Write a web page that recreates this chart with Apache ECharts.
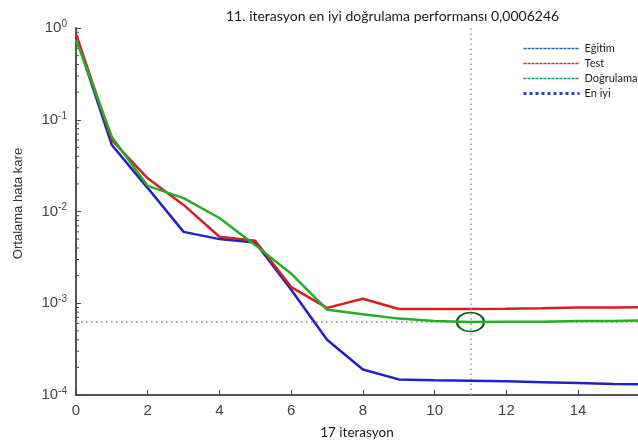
<!DOCTYPE html>
<html>
<head>
<meta charset="utf-8">
<script src="https://cdn.jsdelivr.net/npm/echarts@6/dist/echarts.min.js"></script>
<style>
html, body { margin: 0; padding: 0; background: #fff; }
#chart { width: 638px; height: 446px; }
</style>
</head>
<body>
<div id="chart"></div>
<script>
var iterasyon = [0, 1, 2, 3, 4, 5, 6, 7, 8, 9, 10, 11, 12, 13, 14, 15, 16, 17];
var egitim = [0.8, 0.053, 0.018, 0.006, 0.005, 0.0046, 0.0014, 0.0004, 0.00019, 0.000148, 0.000145, 0.000143, 0.000141, 0.000138, 0.000135, 0.000132, 0.00013, 0.000128];
var test = [0.86, 0.06, 0.023, 0.0118, 0.0053, 0.0048, 0.0015, 0.00089, 0.00112, 0.000865, 0.000865, 0.000865, 0.00087, 0.00088, 0.0009, 0.0009, 0.00091, 0.00091];
var dogrulama = [0.75, 0.065, 0.019, 0.014, 0.0085, 0.0043, 0.0021, 0.00085, 0.00076, 0.00068, 0.00064, 0.0006246, 0.00063, 0.00063, 0.00064, 0.00064, 0.00065, 0.00065];
var enIyiIter = 11;
var enIyiDeger = 0.0006246;
var yTicks = [1e-4, 1e-3, 1e-2, 1e-1, 1];
// the picture is cut on the right, just short of 16
var xGorunenMax = 15.67;

// minor log ticks 2..9 in each decade
var minorTicks = [];
for (var d = 0; d < 4; d++) {
	for (var k = 2; k <= 9; k++) minorTicks.push(k * yTicks[d]);
}

function pairs(arr) {
	return arr.map(function (v, i) { return [iterasyon[i], v]; });
}

var noSymbol = { opacity: 0 };

var myChart = echarts.init(document.getElementById('chart'));
var option = {
	animation: false,
	title: {
		text: '11. iterasyon en iyi doğrulama performansı 0,0006246',
		left: 221,
		top: 4,
		textStyle: { fontFamily: 'Lato', fontSize: 14, fontWeight: 'normal', color: '#1a1a1a' }
	},
	legend: {
		orient: 'vertical',
		left: 522,
		top: 43,
		padding: 0,
		itemWidth: 56,
		itemHeight: 8,
		itemGap: 4,
		textStyle: { fontFamily: 'Lato', fontSize: 11, color: '#1a1a1a' },
		data: [
			{ name: 'Eğitim', itemStyle: noSymbol, lineStyle: { type: [3, 1], width: 1.3, color: '#1f5fd0' } },
			{ name: 'Test', itemStyle: noSymbol, lineStyle: { type: [3, 1], width: 1.3, color: '#d42a2a' } },
			{ name: 'Doğrulama', itemStyle: noSymbol, lineStyle: { type: [3, 1], width: 1.3, color: '#10a050' } },
			{ name: 'En iyi', itemStyle: noSymbol, lineStyle: { type: 'dotted', width: 3, color: '#2a3ae0' } }
		]
	},
	grid: { left: 76, right: 0, top: 28, bottom: 51 },
	xAxis: {
		type: 'value',
		min: 0,
		max: xGorunenMax,
		interval: 2,
		name: '17 iterasyon',
		nameLocation: 'middle',
		nameGap: 31,
		nameTextStyle: { fontFamily: 'Lato', fontSize: 13.5, color: '#1a1a1a' },
		axisLine: { lineStyle: { color: '#555', width: 2 } },
		axisTick: { inside: true, length: 5, lineStyle: { color: '#444' } },
		axisLabel: { fontFamily: 'Liberation Sans', fontSize: 15, color: '#444', margin: 8, showMaxLabel: false },
		splitLine: { show: false }
	},
	yAxis: {
		type: 'log',
		logBase: 10,
		min: 1e-4,
		max: 1,
		splitNumber: 4,
		name: 'Ortalama hata kare',
		nameLocation: 'middle',
		nameGap: 51,
		nameTextStyle: { fontFamily: 'Liberation Sans', fontSize: 13, color: '#333', padding: [0, 0, 0, 16] },
		axisLine: { lineStyle: { color: '#555', width: 2 } },
		axisTick: { inside: true, length: 5, lineStyle: { color: '#444' } },
		axisLabel: {
			margin: 9,
			formatter: function (v) {
				var e = Math.round(Math.log10(v));
				return '{b|10}{s|' + e + '}';
			},
			rich: {
				b: { fontFamily: 'Liberation Sans', fontSize: 15, color: '#444' },
				s: { fontFamily: 'Liberation Sans', fontSize: 10, color: '#444', verticalAlign: 'top', padding: [0, 0, 8, 0] }
			}
		},
		splitLine: { show: false }
	},
	series: [
		{
			// best-value guide line, drawn under the curves
			name: 'En iyi', type: 'line', symbol: 'none', z: 1,
			data: [[0, enIyiDeger], [17, enIyiDeger]],
			itemStyle: { color: '#2a3ae0' },
			lineStyle: { color: '#8a8a70', type: [1.5, 3.5], width: 1.5 },
			markLine: {
				silent: true,
				symbol: 'none',
				label: { show: false },
				data: [
					{ xAxis: enIyiIter, lineStyle: { color: '#7d9aa0', type: [1.5, 3.5], width: 1.5 } }
				]
			}
		},
		{
			name: 'Eğitim', type: 'line', data: pairs(egitim), symbol: 'none', z: 3,
			itemStyle: { color: '#2020c8' }, lineStyle: { color: '#2020c8', width: 2.5 }
		},
		{
			name: 'Test', type: 'line', data: pairs(test), symbol: 'none', z: 4,
			itemStyle: { color: '#d42020' }, lineStyle: { color: '#d42020', width: 2.5 }
		},
		{
			name: 'Doğrulama', type: 'line', data: pairs(dogrulama), symbol: 'none', z: 5,
			itemStyle: { color: '#22b022' }, lineStyle: { color: '#22b022', width: 2.5 },
			markPoint: {
				silent: true,
				symbol: 'circle',
				symbolSize: [27, 19],
				label: { show: false },
				itemStyle: { color: 'rgba(0,0,0,0)', borderColor: '#1b5e1b', borderWidth: 2 },
				data: [{ coord: [enIyiIter, enIyiDeger] }]
			}
		},
		{
			name: 'minor', type: 'custom', silent: true, z: 2,
			data: minorTicks.map(function (v) { return [0, v]; }),
			renderItem: function (params, api) {
				var p = api.coord([0, api.value(1)]);
				return {
					type: 'line',
					shape: { x1: p[0], y1: p[1], x2: p[0] + 3, y2: p[1] },
					style: { stroke: '#444', lineWidth: 1 }
				};
			}
		}
	]
};
myChart.setOption(option);
</script>
</body>
</html>
